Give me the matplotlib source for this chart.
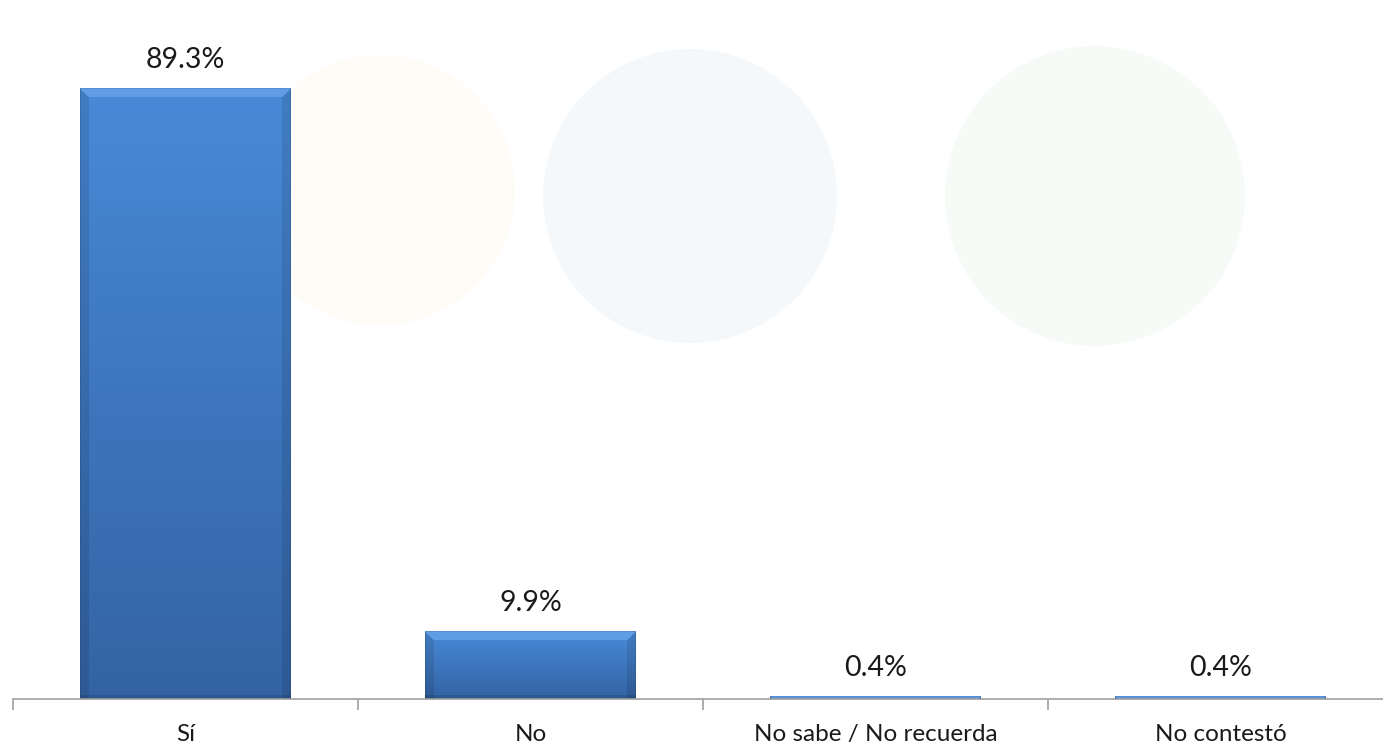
import matplotlib
matplotlib.use("Agg")
import matplotlib.pyplot as plt
import numpy as np
from matplotlib.patches import Ellipse

categories = ["Sí", "No", "No sabe / No recuerda", "No contestó"]
values = [89.3, 9.9, 0.4, 0.4]
labels = ["89.3%", "9.9%", "0.4%", "0.4%"]

W, H = 1383, 746
fig = plt.figure(figsize=(W / 100, H / 100), dpi=100)
fig.patch.set_facecolor("white")

# faint watermark logos (behind the chart)
for (cx, cy, r, col) in [(380, 190, 135, "#fffcf7"), (690, 196, 147, "#f5f8fb"), (1095, 196, 150, "#f7fbf7")]:
    fig.patches.append(Ellipse((cx / W, 1 - cy / H), 2 * r / W, 2 * r / H, transform=fig.transFigure,
                               facecolor=col, edgecolor="none", zorder=-5))

ax = fig.add_axes([13 / W, 1 - 699 / H, (1393 - 13) / W, (699 - 15) / H])
ax.set_zorder(2)
ax.patch.set_alpha(0)
ax.set_xlim(-0.5, len(categories) - 0.5)
ax.set_ylim(0, 100)

for s in ["top", "right", "left"]:
    ax.spines[s].set_visible(False)
ax.spines["bottom"].set_color("#a0a0a0")
ax.spines["bottom"].set_linewidth(1.2)
ax.set_yticks([])

x = np.arange(len(categories))
bw = 0.61
bars = ax.bar(x, values, width=bw, color="none", edgecolor="none", zorder=2)

fig.canvas.draw()
top_c = np.array([0x48, 0x8a, 0xd8]) / 255
bot_c = np.array([0x33, 0x63, 0xa4]) / 255
for b in bars:
    x0, y0 = b.get_x(), b.get_y()
    w, h = b.get_width(), b.get_height()
    p0 = ax.transData.transform((x0, y0))
    p1 = ax.transData.transform((x0 + w, y0 + h))
    wp = max(int(round(p1[0] - p0[0])), 2)
    hp = max(int(round(p1[1] - p0[1])), 2)
    t = np.linspace(0, 1, hp)[:, None, None]
    img = top_c * (1 - t) + bot_c * t
    img = np.repeat(img, wp, axis=1)
    yy, xx = np.mgrid[0:hp, 0:wp]
    bev = 9
    d_top = yy
    d_left = xx
    d_right = wp - 1 - xx
    d_bot = hp - 1 - yy
    dmin = np.minimum(np.minimum(d_top, d_bot), np.minimum(d_left, d_right))
    top_mask = (d_top < bev) & (d_top <= d_left) & (d_top <= d_right)
    side_mask = ((d_left < bev) | (d_right < bev)) & ~top_mask
    bot_mask = (d_bot < 4) & ~top_mask
    light = np.array([0x6e, 0xa8, 0xec]) / 255
    img[top_mask] = img[top_mask] * 0.35 + light * 0.65
    img[side_mask] = img[side_mask] * 0.9
    img[bot_mask] = img[bot_mask] * 0.88
    edge = (dmin < 1)
    img[edge] = img[edge] * 0.9
    ax.imshow(img, extent=(x0, x0 + w, y0, y0 + h), aspect="auto", zorder=2,
              interpolation="nearest")
ax.set_xlim(-0.5, len(categories) - 0.5)
ax.set_ylim(0, 100)

for xi, v, lab in zip(x, values, labels):
    ax.annotate(lab, (xi, v), xytext=(0, 11), textcoords="offset points",
                ha="center", va="bottom", fontsize=20.5, family="Lato", color="#1a1a1a")

ax.set_xticks(x)
ax.set_xticklabels(categories, fontsize=17.5, family="Lato", color="#1a1a1a")
ax.tick_params(axis="x", which="major", length=0, pad=18)
ax.set_xticks(np.arange(-0.5, len(categories)), minor=True)
ax.tick_params(axis="x", which="minor", length=8, width=1.2, color="#a0a0a0")

fig.savefig("out.png", dpi=100, facecolor="white")
